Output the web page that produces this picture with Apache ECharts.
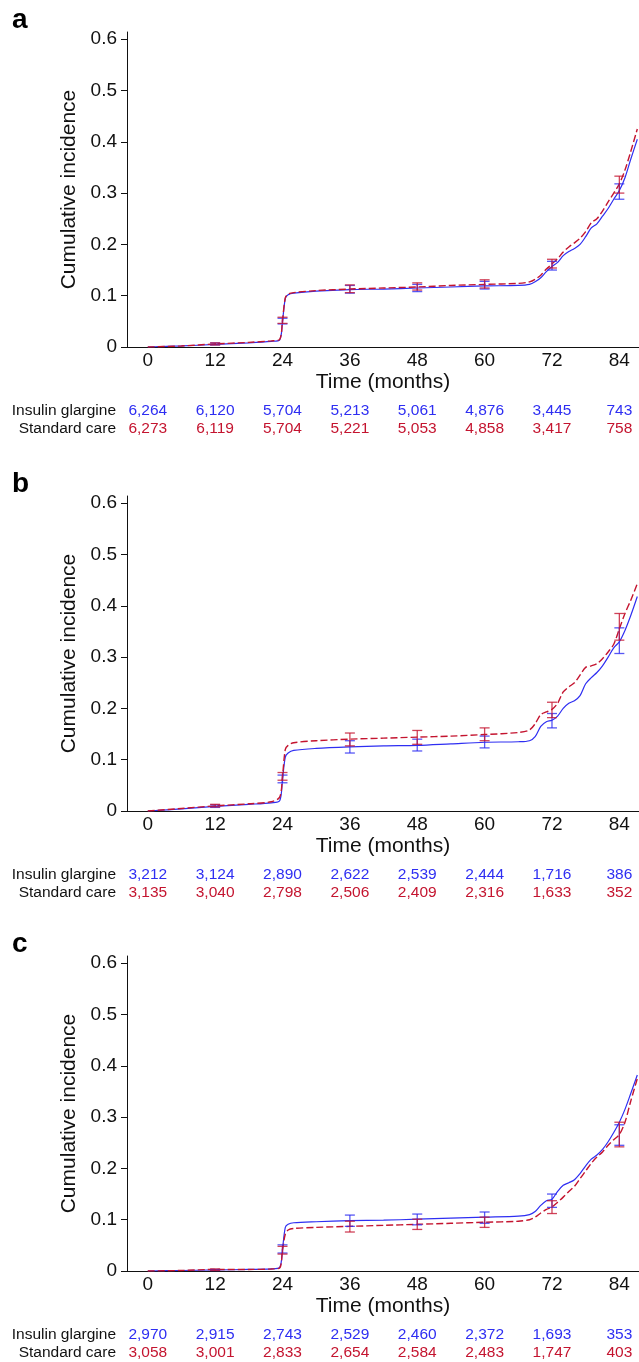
<!DOCTYPE html>
<html>
<head>
<meta charset="utf-8">
<title>Cumulative incidence</title>
<script src="https://cdn.jsdelivr.net/npm/echarts@6/dist/echarts.min.js"></script>
<style>
  html, body { margin: 0; padding: 0; background: #fff; }
  #main { width: 639px; height: 1362px; }
</style>
</head>
<body>
<div id="main"></div>
<script>
// time grid shared by all curves (months)
var months = [0, 6, 12, 18, 22, 23.5, 24, 24.5, 25, 26, 30, 36, 42, 48, 54, 60, 66, 68, 69, 70,
  71, 72, 73, 74, 75, 76, 77, 78, 79, 80, 81, 82, 83, 84, 85, 86, 87.2];

// panel a
var glargineA = [0, 0.002, 0.005, 0.008, 0.011, 0.014, 0.05, 0.095, 0.102, 0.105, 0.109, 0.112, 0.113, 0.115, 0.117, 0.119, 0.12, 0.122, 0.127, 0.135,
  0.147, 0.157, 0.165, 0.178, 0.186, 0.192, 0.2, 0.215, 0.232, 0.24, 0.255, 0.27, 0.288, 0.305, 0.33, 0.365, 0.405];
var standardA = [0, 0.002, 0.006, 0.009, 0.012, 0.015, 0.052, 0.096, 0.103, 0.106, 0.11, 0.113, 0.115, 0.117, 0.12, 0.122, 0.124, 0.127, 0.132, 0.14,
  0.152, 0.162, 0.172, 0.185, 0.195, 0.203, 0.212, 0.225, 0.242, 0.25, 0.265, 0.283, 0.3, 0.318, 0.345, 0.38, 0.425];
// panel b
var glargineB = [0, 0.004, 0.009, 0.013, 0.016, 0.02, 0.062, 0.105, 0.113, 0.118, 0.122, 0.125, 0.127, 0.128, 0.131, 0.134, 0.135, 0.137, 0.145, 0.165,
  0.174, 0.177, 0.185, 0.2, 0.21, 0.215, 0.225, 0.248, 0.26, 0.27, 0.283, 0.3, 0.318, 0.33, 0.352, 0.38, 0.418];
var standardB = [0, 0.005, 0.01, 0.014, 0.018, 0.027, 0.068, 0.12, 0.128, 0.133, 0.137, 0.14, 0.142, 0.144, 0.146, 0.149, 0.153, 0.158, 0.17, 0.188,
  0.193, 0.198, 0.21, 0.232, 0.242, 0.25, 0.265, 0.28, 0.283, 0.287, 0.297, 0.31, 0.325, 0.355, 0.385, 0.41, 0.443];
// panel c
var glargineC = [0, 0.001, 0.002, 0.003, 0.004, 0.007, 0.043, 0.085, 0.091, 0.094, 0.096, 0.098, 0.099, 0.101, 0.103, 0.105, 0.107, 0.11, 0.116, 0.128,
  0.137, 0.14, 0.155, 0.167, 0.172, 0.178, 0.19, 0.205, 0.218, 0.226, 0.237, 0.252, 0.27, 0.29, 0.315, 0.345, 0.382];
var standardC = [0, 0.001, 0.003, 0.003, 0.004, 0.006, 0.041, 0.072, 0.08, 0.083, 0.085, 0.087, 0.089, 0.091, 0.093, 0.095, 0.097, 0.1, 0.105, 0.113,
  0.12, 0.125, 0.134, 0.144, 0.155, 0.165, 0.18, 0.195, 0.21, 0.222, 0.232, 0.245, 0.256, 0.266, 0.29, 0.33, 0.375];

// confidence intervals [month, low, high]
var ciGlargineA = [[12, 0.004, 0.008], [24, 0.045, 0.056], [36, 0.105, 0.12], [48, 0.108, 0.122], [60, 0.113, 0.128], [72, 0.15, 0.167], [84, 0.288, 0.318]];
var ciStandardA = [[12, 0.004, 0.008], [24, 0.046, 0.058], [36, 0.106, 0.121], [48, 0.111, 0.125], [60, 0.115, 0.131], [72, 0.154, 0.171], [84, 0.3, 0.333]];
var ciGlargineB = [[12, 0.007, 0.012], [24, 0.055, 0.07], [36, 0.113, 0.137], [48, 0.117, 0.14], [60, 0.123, 0.146], [72, 0.162, 0.19], [84, 0.307, 0.357]];
var ciStandardB = [[12, 0.008, 0.013], [24, 0.06, 0.075], [36, 0.127, 0.152], [48, 0.13, 0.157], [60, 0.137, 0.162], [72, 0.182, 0.212], [84, 0.333, 0.385]];
var ciGlargineC = [[12, 0.001, 0.003], [24, 0.035, 0.051], [36, 0.087, 0.109], [48, 0.09, 0.111], [60, 0.093, 0.115], [72, 0.124, 0.15], [84, 0.245, 0.285]];
var ciStandardC = [[12, 0.001, 0.004], [24, 0.033, 0.048], [36, 0.076, 0.097], [48, 0.081, 0.101], [60, 0.085, 0.105], [72, 0.112, 0.137], [84, 0.242, 0.29]];

// numbers at risk at 0,12,...,84
var timeTicks = [0, 12, 24, 36, 48, 60, 72, 84];
var riskGlargineA = [6264, 6120, 5704, 5213, 5061, 4876, 3445, 743];
var riskStandardA = [6273, 6119, 5704, 5221, 5053, 4858, 3417, 758];
var riskGlargineB = [3212, 3124, 2890, 2622, 2539, 2444, 1716, 386];
var riskStandardB = [3135, 3040, 2798, 2506, 2409, 2316, 1633, 352];
var riskGlargineC = [2970, 2915, 2743, 2529, 2460, 2372, 1693, 353];
var riskStandardC = [3058, 3001, 2833, 2654, 2584, 2483, 1747, 403];
var yTicks = [0, 0.1, 0.2, 0.3, 0.4, 0.5, 0.6];

var BLUE = '#2e2ef2';
var RED = '#c4142f';
var FONT = '"Liberation Sans", Arial, Helvetica, sans-serif';

var panels = [
  { letter: 'a', top: 32, g: glargineA, s: standardA, cg: ciGlargineA, cs: ciStandardA, rg: riskGlargineA, rs: riskStandardA },
  { letter: 'b', top: 496, g: glargineB, s: standardB, cg: ciGlargineB, cs: ciStandardB, rg: riskGlargineB, rs: riskStandardB },
  { letter: 'c', top: 956, g: glargineC, s: standardC, cg: ciGlargineC, cs: ciStandardC, rg: riskGlargineC, rs: riskStandardC }
];
var H = 315;

function pairs(vals) {
  return months.map(function (m, i) { return [m, vals[i]]; });
}
function fmt(n) { return n.toLocaleString('en-US'); }

function errorBars(params, api) {
  var x = api.value(0);
  var lo = api.coord([x, api.value(1)]);
  var hi = api.coord([x, api.value(2)]);
  var w = 5;
  var st = { stroke: api.visual('color'), lineWidth: 1.3, opacity: 0.8 };
  return {
    type: 'group',
    children: [
      { type: 'line', shape: { x1: lo[0], y1: lo[1], x2: hi[0], y2: hi[1] }, style: st },
      { type: 'line', shape: { x1: lo[0] - w, y1: lo[1], x2: lo[0] + w, y2: lo[1] }, style: st },
      { type: 'line', shape: { x1: hi[0] - w, y1: hi[1], x2: hi[0] + w, y2: hi[1] }, style: st }
    ]
  };
}

var grid = [], xAxis = [], yAxis = [], series = [], graphic = [];

panels.forEach(function (p, i) {
  var bottom = p.top + H;
  grid.push({ left: 127, width: 512, top: p.top, height: H });

  yAxis.push({
    type: 'value', gridIndex: i, min: 0, max: 0.614,
    name: 'Cumulative incidence', nameLocation: 'middle', nameGap: 44,
    nameTextStyle: { fontFamily: FONT, fontSize: 21, color: '#111' },
    axisLine: { show: true, onZero: false, lineStyle: { color: '#111', width: 1 } },
    axisTick: { show: true, length: 6, customValues: yTicks, lineStyle: { color: '#111' } },
    axisLabel: { customValues: yTicks, margin: 10, fontFamily: FONT, fontSize: 19, color: '#111',
      formatter: function (v) { return v === 0 ? '0' : v.toFixed(1); } },
    splitLine: { show: false }
  });

  var xBase = { type: 'value', gridIndex: i, min: -3.7, max: 87.5, splitLine: { show: false } };
  xAxis.push(Object.assign({}, xBase, {
    position: 'bottom',
    name: 'Time (months)', nameLocation: 'middle', nameGap: 25,
    nameTextStyle: { fontFamily: FONT, fontSize: 21, color: '#111' },
    axisLine: { show: true, onZero: false, lineStyle: { color: '#111', width: 1 } },
    axisTick: { show: false },
    axisLabel: { customValues: timeTicks, margin: 4, fontFamily: FONT, fontSize: 19, color: '#111' }
  }));
  [[p.rg, BLUE, 48], [p.rs, RED, 66]].forEach(function (r) {
    xAxis.push(Object.assign({}, xBase, {
      position: 'bottom', offset: r[2],
      axisLine: { show: false, onZero: false }, axisTick: { show: false },
      axisLabel: { customValues: timeTicks, margin: 8, fontFamily: FONT, fontSize: 15.5, color: r[1],
        formatter: (function (arr) { return function (v) { return fmt(arr[timeTicks.indexOf(v)]); }; })(r[0]) }
    }));
  });

  var xi = i * 3;
  series.push({
    name: 'Insulin glargine', type: 'line', xAxisIndex: xi, yAxisIndex: i,
    data: pairs(p.g), showSymbol: false, smooth: 0.3, z: 3,
    lineStyle: { color: BLUE, width: 1.2 }, itemStyle: { color: BLUE }
  });
  series.push({
    name: 'Standard care', type: 'line', xAxisIndex: xi, yAxisIndex: i,
    data: pairs(p.s), showSymbol: false, smooth: 0.3, z: 4,
    lineStyle: { color: RED, width: 1.4, type: [7, 3] }, itemStyle: { color: RED }
  });
  series.push({
    type: 'custom', xAxisIndex: xi, yAxisIndex: i, data: p.cg, renderItem: errorBars,
    itemStyle: { color: BLUE }, z: 5
  });
  series.push({
    type: 'custom', xAxisIndex: xi, yAxisIndex: i, data: p.cs, renderItem: errorBars,
    itemStyle: { color: RED }, z: 6
  });

  graphic.push({ type: 'text', left: 12, top: p.top - 26,
    style: { text: p.letter, fontFamily: FONT, fontSize: 28, fontWeight: 'bold', fill: '#000' } });
  graphic.push({ type: 'text', x: 116, y: bottom + 64,
    style: { text: 'Insulin glargine', fontFamily: FONT, fontSize: 15.5, fill: '#111', align: 'right', verticalAlign: 'middle' } });
  graphic.push({ type: 'text', x: 116, y: bottom + 82,
    style: { text: 'Standard care', fontFamily: FONT, fontSize: 15.5, fill: '#111', align: 'right', verticalAlign: 'middle' } });
});

var myChart = echarts.init(document.getElementById('main'), null, { renderer: 'canvas' });
myChart.setOption({
  animation: false,
  backgroundColor: '#fff',
  grid: grid,
  xAxis: xAxis,
  yAxis: yAxis,
  series: series,
  graphic: graphic
});
</script>
</body>
</html>
